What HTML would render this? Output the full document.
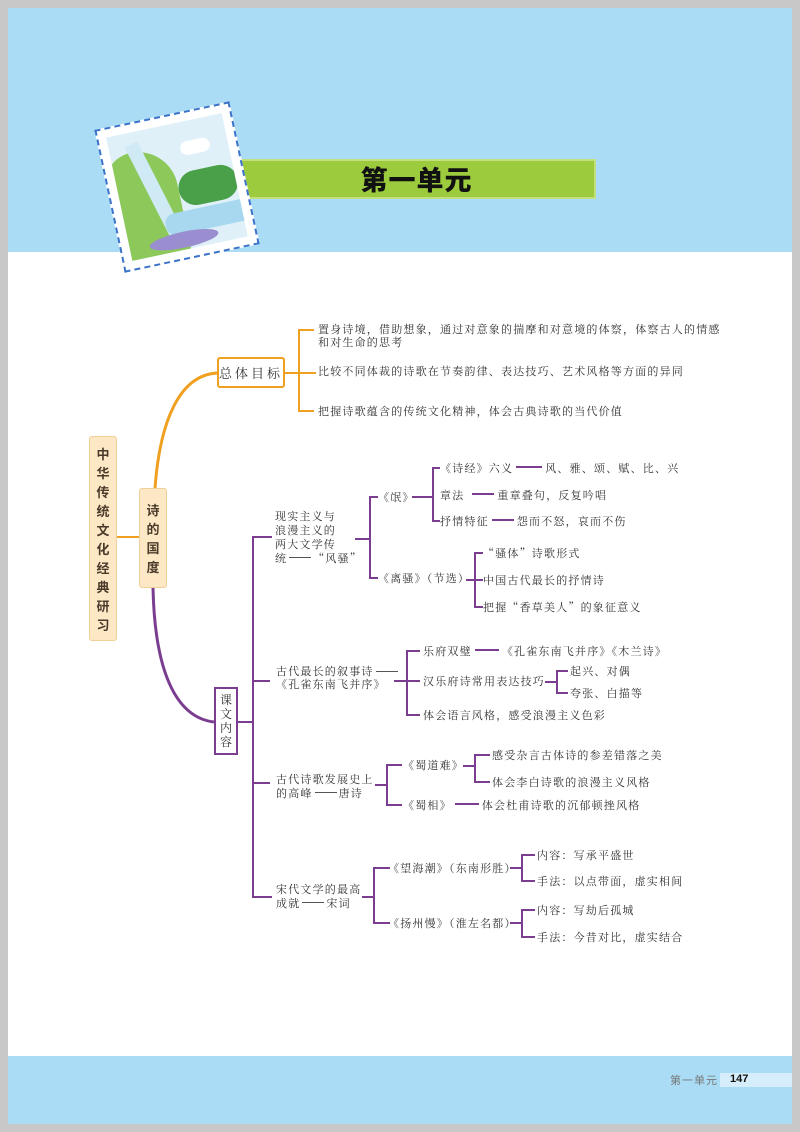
<!DOCTYPE html>
<html><head><meta charset="utf-8">
<style>
*{margin:0;padding:0;box-sizing:border-box}
body{width:800px;height:1132px;background:#c8c8c8;position:relative;overflow:hidden;font-family:"Liberation Sans","Noto Sans CJK SC",sans-serif}
.pg{position:absolute;left:8px;top:8px;width:784px;height:1116px;background:#fff}
.top{position:absolute;left:8px;top:8px;width:784px;height:244px;background:#aadcf5}
.foot{position:absolute;left:8px;top:1056px;width:784px;height:68px;background:#aadcf5}
.t{position:absolute;font-family:"Noto Serif CJK SC","Noto Sans CJK SC",serif;font-size:11px;line-height:13px;color:#333;letter-spacing:1.2px;white-space:nowrap}
.d{display:inline-block;height:6px;border-bottom:2px solid #7a3d90;vertical-align:top;margin:0 3px}
.dt{display:inline-block;height:7px;border-bottom:1px solid #555;vertical-align:top;margin:0 2px}
.vb{position:absolute;display:flex;flex-direction:column;align-items:center;justify-content:center;font-family:"Noto Sans CJK SC",sans-serif;font-weight:bold;color:#4a3a2a}
svg{position:absolute;left:0;top:0}
</style></head><body>
<div class="pg"></div>
<div class="top"></div>
<div class="foot"></div>
<div style="position:absolute;left:237px;top:159px;width:359px;height:40px;background:#9ccb3e;border:2px solid #c2e07e"></div>
<div style="position:absolute;left:237px;top:159px;width:359px;height:40px;line-height:40px;text-align:center;font-family:'Noto Sans CJK SC',sans-serif;font-weight:900;font-size:27px;color:#111;letter-spacing:1px">第一单元</div>
<div style="position:absolute;left:108px;top:114px;width:138px;height:146px;transform:rotate(-12deg);background:#fff;border:2px dashed #3a73c8;overflow:hidden">
 <div style="position:absolute;left:8px;top:8px;width:118px;height:126px;background:#dff0f8;overflow:hidden">
  <div style="position:absolute;left:-10px;top:20px;width:70px;height:120px;background:#8cc85a;border-radius:30px 40px 0 0"></div>
  <div style="position:absolute;left:30px;top:10px;width:14px;height:110px;background:#cfeaf5;transform:rotate(-15deg)"></div>
  <div style="position:absolute;left:60px;top:50px;width:60px;height:35px;background:#4aa048;border-radius:20px"></div>
  <div style="position:absolute;left:40px;top:88px;width:90px;height:22px;background:#a8d8ef;border-radius:10px"></div>
  <div style="position:absolute;left:20px;top:108px;width:70px;height:16px;background:#9a8ed0;border-radius:50%"></div>
  <div style="position:absolute;left:70px;top:20px;width:30px;height:14px;background:#fff;border-radius:8px"></div>
 </div>
</div>
<svg width="800" height="1132">
 <g fill="none" stroke="#f0a020" stroke-width="2">
  <line x1="117" y1="537" x2="139" y2="537"/>
  <path d="M155 488 C160 420 180 375 217 373" stroke-width="3"/>
  <line x1="285" y1="373" x2="316" y2="373"/>
  <path d="M314 330 H299 V411 H314"/>
 </g>
 <g fill="none" stroke="#7a3d90" stroke-width="2">
  <path d="M153 588 C155 680 180 718 214 722" stroke-width="3"/>
  <line x1="238" y1="722" x2="253" y2="722"/>
  <path d="M272 537 H253 V897 H272"/>
  <line x1="253" y1="681" x2="270" y2="681"/>
  <line x1="253" y1="783" x2="270" y2="783"/>
  <line x1="355" y1="539" x2="370" y2="539"/>
  <path d="M378 497 H370 V578 H378"/>
  <line x1="412" y1="497" x2="433" y2="497"/>
  <path d="M440 468 H433 V521 H440"/>
  <line x1="466" y1="580" x2="475" y2="580"/>
  <path d="M483 553 H475 V607 H483"/>
  <line x1="475" y1="580" x2="483" y2="580"/>
  <line x1="394" y1="681" x2="407" y2="681"/>
  <path d="M420 651 H407 V715 H420"/>
  <line x1="407" y1="681" x2="420" y2="681"/>
  <line x1="545" y1="682" x2="557" y2="682"/>
  <path d="M568 671 H557 V693 H568"/>
  <line x1="375" y1="785" x2="387" y2="785"/>
  <path d="M402 765 H387 V805 H402"/>
  <line x1="463" y1="766" x2="475" y2="766"/>
  <path d="M490 755 H475 V782 H490"/>
  <line x1="362" y1="897" x2="374" y2="897"/>
  <path d="M390 868 H374 V923 H390"/>
  <line x1="510" y1="868" x2="522" y2="868"/>
  <path d="M535 855 H522 V881 H535"/>
  <line x1="510" y1="923" x2="522" y2="923"/>
  <path d="M535 910 H522 V937 H535"/>
 </g>
</svg>
<div class="vb" style="left:89px;top:436px;width:28px;height:205px;background:#fde8c6;border:1px solid #f2cf98;border-radius:3px;font-size:13px;line-height:19px">中<br>华<br>传<br>统<br>文<br>化<br>经<br>典<br>研<br>习</div>
<div class="vb" style="left:139px;top:488px;width:28px;height:100px;background:#fde8c6;border:1px solid #f2cf98;border-radius:3px;font-size:13px;line-height:19px">诗<br>的<br>国<br>度</div>
<div class="vb" style="left:217px;top:357px;width:68px;height:31px;border:2px solid #f0a020;border-radius:3px;font-size:13px;font-weight:normal;letter-spacing:3px;color:#333;font-family:'Noto Serif CJK SC',serif;flex-direction:row">总体目标</div>
<div class="vb" style="left:214px;top:687px;width:24px;height:68px;border:2px solid #7a3d90;font-size:12px;line-height:14px;font-weight:normal;color:#333;font-family:'Noto Serif CJK SC',serif">课<br>文<br>内<br>容</div>
<div class="t" style="left:318px;top:323px">置身诗境，借助想象，通过对意象的揣摩和对意境的体察，体察古人的情感<br>和对生命的思考</div>
<div class="t" style="left:318px;top:365px">比较不同体裁的诗歌在节奏韵律、表达技巧、艺术风格等方面的异同</div>
<div class="t" style="left:318px;top:405px">把握诗歌蕴含的传统文化精神，体会古典诗歌的当代价值</div>
<div class="t" style="left:275px;top:509px;line-height:14px">现实主义与<br>浪漫主义的<br>两大文学传<br>统<span class="dt" style="width:22px"></span>“风骚”</div>
<div class="t" style="left:378px;top:491px">《氓》</div>
<div class="t" style="left:378px;top:572px">《离骚》（节选）</div>
<div class="t" style="left:440px;top:462px">《诗经》六义<span class="d" style="width:26px"></span>风、雅、颂、赋、比、兴</div>
<div class="t" style="left:440px;top:489px">章法<span class="d" style="width:22px;margin-left:8px"></span>重章叠句，反复吟唱</div>
<div class="t" style="left:440px;top:515px">抒情特征<span class="d" style="width:22px"></span>怨而不怒，哀而不伤</div>
<div class="t" style="left:483px;top:547px">“骚体”诗歌形式</div>
<div class="t" style="left:483px;top:574px">中国古代最长的抒情诗</div>
<div class="t" style="left:483px;top:601px">把握“香草美人”的象征意义</div>
<div class="t" style="left:276px;top:665px">古代最长的叙事诗<span class="dt" style="width:22px"></span></div>
<div class="t" style="left:276px;top:678px">《孔雀东南飞并序》</div>
<div class="t" style="left:423px;top:645px">乐府双璧<span class="d" style="width:24px"></span>《孔雀东南飞并序》《木兰诗》</div>
<div class="t" style="left:423px;top:675px">汉乐府诗常用表达技巧</div>
<div class="t" style="left:570px;top:665px">起兴、对偶</div>
<div class="t" style="left:570px;top:687px">夸张、白描等</div>
<div class="t" style="left:423px;top:709px">体会语言风格，感受浪漫主义色彩</div>
<div class="t" style="left:276px;top:772px;line-height:14px">古代诗歌发展史上<br>的高峰<span class="dt" style="width:22px"></span>唐诗</div>
<div class="t" style="left:403px;top:759px">《蜀道难》</div>
<div class="t" style="left:492px;top:749px">感受杂言古体诗的参差错落之美</div>
<div class="t" style="left:492px;top:776px">体会李白诗歌的浪漫主义风格</div>
<div class="t" style="left:403px;top:799px">《蜀相》<span class="d" style="width:24px"></span>体会杜甫诗歌的沉郁顿挫风格</div>
<div class="t" style="left:276px;top:882px;line-height:14px">宋代文学的最高<br>成就<span class="dt" style="width:22px"></span>宋词</div>
<div class="t" style="left:388px;top:862px">《望海潮》（东南形胜）</div>
<div class="t" style="left:537px;top:849px">内容：写承平盛世</div>
<div class="t" style="left:537px;top:875px">手法：以点带面，虚实相间</div>
<div class="t" style="left:388px;top:917px">《扬州慢》（淮左名都）</div>
<div class="t" style="left:537px;top:904px">内容：写劫后孤城</div>
<div class="t" style="left:537px;top:931px">手法：今昔对比，虚实结合</div>
<div style="position:absolute;left:670px;top:1072px;font-size:11px;color:#777;font-family:'Noto Sans CJK SC',sans-serif;letter-spacing:1px">第一单元</div>
<div style="position:absolute;left:720px;top:1073px;width:72px;height:14px;background:#d6eefb"></div>
<div style="position:absolute;left:730px;top:1073px;font-size:11px;font-weight:bold;color:#111">147</div>
</body></html>
